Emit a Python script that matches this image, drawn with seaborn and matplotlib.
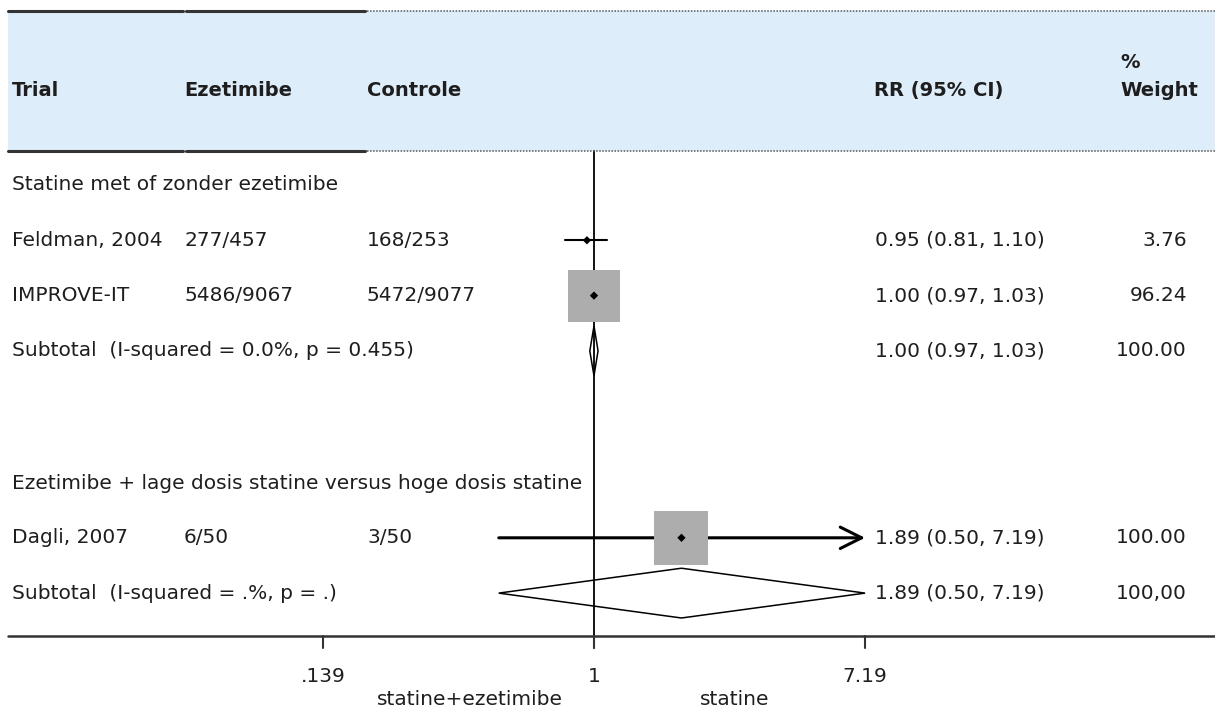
#coding:utf-8
import matplotlib
matplotlib.use('Agg')
import matplotlib.pyplot as plt
import matplotlib.transforms as mtransforms
import numpy as np
import pandas as pd
import seaborn as sns

# trial rows
trials = ['Feldman, 2004', 'IMPROVE-IT', 'Dagli, 2007']
eze_events = ['277/457', '5486/9067', '6/50']
ctrl_events = ['168/253', '5472/9077', '3/50']
rr = [0.95, 1.00, 1.89]
rr_lo = [0.81, 0.97, 0.50]
rr_hi = [1.10, 1.03, 7.19]
weights = [3.76, 96.24, 100.00]
trial_group = [0, 0, 1]

# subgroups
group_titles = ['Statine met of zonder ezetimibe',
                'Ezetimibe + lage dosis statine versus hoge dosis statine']
sub_labels = ['Subtotal  (I-squared = 0.0%, p = 0.455)',
              'Subtotal  (I-squared = .%, p = .)']
sub_rr = [1.00, 1.89]
sub_lo = [0.97, 0.50]
sub_hi = [1.03, 7.19]
sub_weight_txt = ['100.00', '100,00']

xticks = [0.139, 1, 7.19]
xtick_labels = ['.139', '1', '7.19']
favours = ['statine+ezetimibe', 'statine']

# layout (row units, 1 row ~ 55 px)
group_start = [0, 5.4]
W = 1215.0

sns.set_style('white')
plt.rcParams['font.family'] = ['DejaVu Sans']
FS = 14.5
TXT = '#1e1e1e'

fig = plt.figure(figsize=(12.15, 7.13), dpi=100)
ax = fig.add_axes([0, 0, 1, 1])
ax.set_xscale('log')
ax.set_xlim(0.01326, 91.8)
ax.set_ylim(9.548, -3.345)
ax.axis('off')
blend = mtransforms.blended_transform_factory(ax.transAxes, ax.transData)

# row positions
trial_y = []
counts = [0, 0]
for g in trial_group:
    counts[g] += 1
    trial_y.append(group_start[g] + counts[g] - (0.02 if g == 1 else 0))
sub_y = [group_start[g] + counts[g] + 1 - (0.02 if g == 1 else 0) for g in range(2)]

# header band
ax.axhspan(-3.146, -0.615, xmin=8 / W, xmax=1, color='#DDEDFA', zorder=0, lw=0)
for yy in [-3.146, -0.615]:
    ax.plot([8 / W, 183 / W], [yy, yy], transform=blend, color='#333333', lw=2.2)
    ax.plot([186 / W, 365 / W], [yy, yy], transform=blend, color='#333333', lw=2.2)
    ax.plot([367 / W, 1], [yy, yy], transform=blend, color='#555555', lw=1.1,
            linestyle=(0, (1, 1)))

hy = -1.70
for txt, xp in [('Trial', 12), ('Ezetimibe', 184), ('Controle', 367), ('RR (95% CI)', 874)]:
    ax.text(xp / W, hy, txt, transform=blend, ha='left', va='center',
            fontsize=FS - 0.5, fontweight='bold', color=TXT)
ax.text(1120 / W, -2.22, '%', transform=blend, ha='left', va='center',
        fontsize=FS - 0.5, fontweight='bold', color=TXT)
ax.text(1120 / W, hy, 'Weight', transform=blend, ha='left', va='center',
        fontsize=FS - 0.5, fontweight='bold', color=TXT)

# null line
ax.plot([1, 1], [-0.615, 8.37], color='black', lw=1.3, zorder=1)

# text columns
for g in range(2):
    ax.text(12 / W, group_start[g], group_titles[g], transform=blend,
            ha='left', va='center', fontsize=FS, color=TXT)
    ax.text(12 / W, sub_y[g], sub_labels[g], transform=blend,
            ha='left', va='center', fontsize=FS, color=TXT)
    ax.text(875 / W, sub_y[g], f'{sub_rr[g]:.2f} ({sub_lo[g]:.2f}, {sub_hi[g]:.2f})',
            transform=blend, ha='left', va='center', fontsize=FS, color=TXT)
    ax.text(1187 / W, sub_y[g], sub_weight_txt[g], transform=blend,
            ha='right', va='center', fontsize=FS, color=TXT)

for i in range(len(trials)):
    y = trial_y[i]
    ax.text(12 / W, y, trials[i], transform=blend, ha='left', va='center', fontsize=FS, color=TXT)
    ax.text(184 / W, y, eze_events[i], transform=blend, ha='left', va='center', fontsize=FS, color=TXT)
    ax.text(367 / W, y, ctrl_events[i], transform=blend, ha='left', va='center', fontsize=FS, color=TXT)
    ax.text(875 / W, y, f'{rr[i]:.2f} ({rr_lo[i]:.2f}, {rr_hi[i]:.2f})', transform=blend,
            ha='left', va='center', fontsize=FS, color=TXT)
    ax.text(1187 / W, y, f'{weights[i]:.2f}', transform=blend, ha='right', va='center',
            fontsize=FS, color=TXT)

# CI lines
for i in range(len(trials)):
    y = trial_y[i]
    if trial_group[i] == 1:
        ax.annotate('', xy=(rr_hi[i], y), xytext=(rr_lo[i], y),
                    arrowprops=dict(arrowstyle='->,head_length=0.7,head_width=0.35',
                                    lw=2.2, color='black', shrinkA=0, shrinkB=0,
                                    mutation_scale=22), zorder=2)
    else:
        ax.plot([rr_lo[i], rr_hi[i]], [y, y], color='black', lw=1.5, zorder=2)

# boxes scaled by weight
df = pd.DataFrame({'rr': rr, 'y': trial_y, 'w': weights})
box_side = 54 * df['w'].values / 100 * 0.72
sns.scatterplot(data=df, x='rr', y='y', marker='s', s=box_side ** 2,
                color='#ADADAD', edgecolor='none', linewidth=0, ax=ax, zorder=3, legend=False)
sns.scatterplot(data=df, x='rr', y='y', marker='D', s=18, color='black',
                edgecolor='none', ax=ax, zorder=4, legend=False)

# subtotal diamonds
for g in range(2):
    y = sub_y[g]
    ax.fill([sub_lo[g], sub_rr[g], sub_hi[g], sub_rr[g]], [y, y - 0.45, y, y + 0.45],
            fill=False, edgecolor='black', lw=1.1, zorder=3)

# x axis
ax.plot([8 / W, 1], [8.155, 8.155], transform=blend, color='#333333', lw=1.8)
for t, lab in zip(xticks, xtick_labels):
    ax.plot([t, t], [8.155, 8.37], color='#333333', lw=1.5)
    ax.text(t, 8.88, lab, ha='center', va='center', fontsize=FS, color=TXT)
ax.text(470 / W, 9.31, favours[0], transform=blend, ha='center', va='center', fontsize=FS, color=TXT)
ax.text(735 / W, 9.31, favours[1], transform=blend, ha='center', va='center', fontsize=FS, color=TXT)

ax.set_xlabel('')
ax.set_ylabel('')
plt.savefig('out.png', dpi=100)
